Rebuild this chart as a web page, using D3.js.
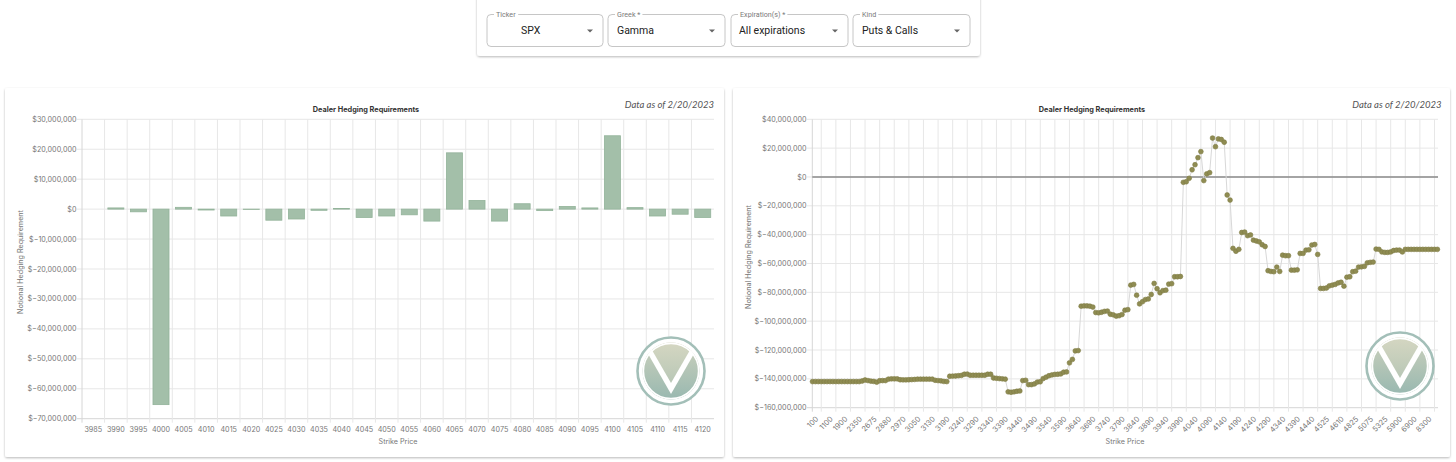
<!DOCTYPE html>
<html><head><meta charset="utf-8">
<script src="https://cdn.jsdelivr.net/npm/d3@7"></script>
<style>
html,body{margin:0;padding:0;background:#fff;}
svg{display:block;font-family:Inter,"Open Sans",sans-serif;}
</style></head><body>
<svg id="c" width="1456" height="462"></svg>
<script>
// ---------- DATA ----------
const controlLabels = ["Ticker", "Greek *", "Expiration(s) *", "Kind"];
const controlValues = ["SPX", "Gamma", "All expirations", "Puts & Calls"];
const chartTitle = "Dealer Hedging Requirements";
const dataAsOf = "Data as of 2/20/2023";
const yTitle = "Notional Hedging Requirement";
const xTitle = "Strike Price";

// left chart: notional per strike, in $ millions
const leftStrikes = [3985,3990,3995,4000,4005,4010,4015,4020,4025,4030,4035,4040,4045,4050,
                     4055,4060,4065,4070,4075,4080,4085,4090,4095,4100,4105,4110,4115,4120];
const leftValues  = [0,0.4,-0.9,-65.3,0.6,-0.3,-2.3,-0.1,-3.7,-3.3,-0.4,0.2,-2.8,-2.3,
                     -1.9,-4.0,18.8,2.9,-4.0,1.8,-0.5,0.9,0.4,24.5,0.5,-2.3,-1.7,-2.8];
const leftYTicks  = [30,20,10,0,-10,-20,-30,-40,-50,-60,-70];

// right chart: cumulative notional by strike, in $ millions
const rightStrikes = [
  25,50,75,100,300,500,700,900,1100,1200,
  1400,1600,1800,1900,2000,2100,2200,2300,2350,2400,
  2500,2550,2600,2675,2700,2750,2800,2850,2880,2900,
  2920,2940,2950,2970,2980,3000,3020,3040,3050,3060,
  3075,3100,3120,3130,3140,3150,3160,3175,3190,3200,
  3210,3220,3230,3240,3250,3260,3270,3280,3290,3300,
  3310,3320,3330,3340,3350,3360,3370,3380,3390,3400,
  3410,3420,3430,3440,3450,3460,3470,3480,3490,3500,
  3510,3520,3530,3540,3550,3560,3570,3580,3590,3600,
  3610,3620,3630,3640,3650,3660,3670,3680,3690,3700,
  3710,3720,3730,3740,3750,3760,3770,3780,3790,3800,
  3810,3820,3830,3840,3850,3860,3870,3880,3890,3900,
  3910,3920,3930,3940,3950,3960,3970,3980,3990,4000,
  4010,4020,4030,4040,4050,4060,4070,4080,4090,4100,
  4110,4120,4130,4140,4150,4160,4170,4180,4190,4200,
  4210,4220,4230,4240,4250,4260,4270,4280,4290,4300,
  4310,4320,4330,4340,4350,4360,4370,4380,4390,4400,
  4410,4420,4430,4440,4450,4475,4490,4500,4525,4550,
  4575,4590,4600,4610,4650,4700,4750,4800,4825,4850,
  4900,4950,5000,5075,5100,5150,5200,5300,5325,5400,
  5500,5600,5800,5900,6000,6200,6400,6600,6900,7000,
  7200,7600,8000,8300,8400];
const rightValues = [
  -141.9,-141.9,-141.9,-141.9,-141.9,-141.9,-141.9,-141.9,-141.9,-141.9,
  -141.9,-141.9,-141.9,-141.9,-141.9,-141.9,-141.9,-141.5,-140.8,-141.2,
  -141.6,-141.8,-142.3,-141.3,-141.2,-141.2,-140.2,-140.0,-140.0,-140.0,
  -140.6,-140.7,-140.7,-140.6,-140.5,-140.4,-140.2,-140.2,-140.2,-140.2,
  -140.2,-140.2,-141.0,-141.2,-141.4,-141.8,-141.9,-138.2,-138.1,-138.0,
  -137.8,-137.6,-136.8,-136.7,-137.5,-137.5,-137.5,-137.5,-137.5,-137.5,
  -136.8,-136.8,-139.4,-139.6,-139.8,-140.0,-140.2,-149.0,-149.3,-149.0,
  -148.6,-148.4,-141.2,-141.0,-144.0,-144.0,-143.5,-142.2,-142.0,-139.8,
  -138.8,-137.8,-137.3,-136.9,-136.8,-136.6,-135.4,-135.2,-128.9,-126.5,
  -120.6,-120.4,-89.6,-89.4,-89.4,-89.6,-90.2,-94.0,-94.2,-93.8,
  -93.2,-93.0,-95.2,-95.6,-96.5,-96.2,-95.4,-92.4,-92.0,-75.0,
  -74.5,-82.0,-88.0,-86.5,-85.0,-84.6,-81.5,-73.8,-77.5,-80.3,
  -78.8,-78.5,-74.3,-74.0,-69.2,-69.2,-69.0,-3.7,-3.3,-0.9,
  5.0,8.5,13.4,17.6,-2.5,2.1,3.0,27.0,21.0,26.4,
  26.0,24.1,-12.5,-16.0,-49.5,-51.5,-50.2,-38.5,-38.2,-40.7,
  -40.2,-43.8,-44.4,-45.0,-47.0,-48.2,-65.0,-65.5,-65.7,-62.5,
  -65.5,-54.2,-54.6,-54.6,-64.6,-64.6,-64.4,-53.0,-53.0,-50.7,
  -50.5,-47.2,-46.8,-53.7,-77.3,-77.3,-77.0,-75.5,-75.0,-74.5,
  -73.5,-73.0,-75.7,-69.5,-69.2,-65.7,-65.3,-62.5,-62.3,-62.0,
  -59.5,-59.2,-59.0,-50.0,-50.2,-52.0,-52.3,-52.3,-52.0,-51.0,
  -50.7,-50.7,-52.0,-50.2,-50.2,-50.2,-50.2,-50.2,-50.2,-50.2,
  -50.2,-50.2,-50.2,-50.2,-50.2];
const rightTickLabels = [100,1100,1900,2350,2675,2880,2970,3050,3130,3190,3240,3290,3340,3390,
  3440,3490,3540,3590,3640,3690,3740,3790,3840,3890,3940,3990,4040,4090,4140,4190,4240,4290,
  4340,4390,4440,4525,4610,4825,5075,5325,5900,6900,8300];
const rightYTicks = [40,20,0,-20,-40,-60,-80,-100,-120,-140,-160];

// ---------- DRAW ----------
const svg = d3.select("#c");
const defs = svg.append("defs");
const sh = defs.append("filter").attr("id","sh").attr("x","-5%").attr("y","-10%").attr("width","110%").attr("height","125%");
sh.append("feDropShadow").attr("dx",0).attr("dy",1).attr("stdDeviation",1.3)
  .attr("flood-color","#000").attr("flood-opacity",0.28);
const lgTop = defs.append("linearGradient").attr("id","lgTop").attr("x1",0).attr("y1",0).attr("x2",0).attr("y2",1);
lgTop.append("stop").attr("offset","0%").attr("stop-color","#dddbc5");
lgTop.append("stop").attr("offset","100%").attr("stop-color","#b8c7b6");
const lgSide = defs.append("linearGradient").attr("id","lgSide").attr("x1",0).attr("y1",0).attr("x2",0).attr("y2",1);
lgSide.append("stop").attr("offset","0%").attr("stop-color","#cdd1bc");
lgSide.append("stop").attr("offset","100%").attr("stop-color","#98b8b0");

const money = v => "$" + d3.format(",")(Math.round(v*1e6));
const GRID = "#e7e7e7", AXIS = "#d6d6d6", TICK = "#777";

// controls panel
svg.append("rect").attr("x",477).attr("y",-6).attr("width",503).attr("height",62)
  .attr("rx",3).attr("fill","#fff").attr("filter","url(#sh)");
const boxes = [{x:487,w:116,vx:521},{x:608,w:117,vx:617},{x:731,w:117,vx:739},{x:853,w:117,vx:862}];
boxes.forEach((b,i)=>{
  const g = svg.append("g");
  g.append("rect").attr("x",b.x).attr("y",14.5).attr("width",b.w).attr("height",32)
    .attr("rx",4).attr("fill","#fff").attr("stroke","#c6c6c6");
  const lab = g.append("text").attr("x",b.x+9).attr("y",17).attr("font-family","Roboto")
    .attr("font-size",7.2).attr("fill","#7a7a7a").text(controlLabels[i]);
  const bb = lab.node().getBBox();
  g.insert("rect","text").attr("x",bb.x-2).attr("y",12).attr("width",bb.width+4).attr("height",5).attr("fill","#fff");
  g.append("text").attr("x",b.vx).attr("y",34).attr("font-family","Roboto")
    .attr("font-size",10.5).attr("fill","#222").text(controlValues[i]);
  const ax = b.x + b.w - 13, ay = 29.5;
  g.append("path").attr("d",`M${ax-3},${ay}L${ax+3},${ay}L${ax},${ay+3}Z`).attr("fill","#666");
});

// cards
svg.append("rect").attr("x",5).attr("y",88).attr("width",719).attr("height",369).attr("rx",2)
  .attr("fill","#fff").attr("filter","url(#sh)");
svg.append("rect").attr("x",733).attr("y",88).attr("width",717).attr("height",369).attr("rx",2)
  .attr("fill","#fff").attr("filter","url(#sh)");

function logo(cx, cy){
  const g = svg.append("g").attr("transform",`translate(${cx},${cy})`);
  g.append("circle").attr("r",33.5).attr("fill","#fff").attr("stroke","#a3bfb8").attr("stroke-width",2.6);
  const cid = "clip"+cx;
  defs.append("clipPath").attr("id",cid).append("circle").attr("r",28.5);
  const gi = g.append("g").attr("clip-path",`url(#${cid})`);
  gi.append("rect").attr("x",-29).attr("y",-29).attr("width",58).attr("height",58).attr("fill","url(#lgSide)");
  gi.append("path").attr("d","M-36,-40L0,23L36,-40Z").attr("fill","#fff");
  gi.append("path").attr("d","M0,12L-30,-40L30,-40Z").attr("fill","url(#lgTop)");
  gi.append("circle").attr("r",28).attr("fill","none").attr("stroke","#fff").attr("stroke-width",2.4);
}

function headers(cx, right){
  svg.append("text").attr("x",cx).attr("y",111.5).attr("text-anchor","middle")
    .attr("font-size",7.3).attr("font-weight",700).attr("fill","#333").text(chartTitle);
  svg.append("text").attr("x",right).attr("y",108).attr("text-anchor","end")
    .attr("font-family","Lato").attr("font-style","italic").attr("font-size",9.5).attr("fill","#555").text(dataAsOf);
}

// ----- LEFT CHART -----
{
  const x = d3.scaleBand().domain(leftStrikes).range([82,714]).paddingInner(0.29).paddingOuter(0.145);
  const y = d3.scaleLinear().domain([-70,30]).range([418.7,119.3]);
  const half = (x.step()-x.bandwidth())/2;
  const g = svg.append("g");
  g.selectAll(".hg").data(leftYTicks).join("line")
    .attr("x1",77).attr("x2",714).attr("y1",d=>y(d)).attr("y2",d=>y(d))
    .attr("stroke",d=>d===-70?AXIS:GRID);
  g.selectAll(".vg").data(leftStrikes).join("line")
    .attr("x1",d=>x(d)-half).attr("x2",d=>x(d)-half).attr("y1",y(30)).attr("y2",y(-70)+4)
    .attr("stroke",(d,i)=>i===0?AXIS:GRID);
  g.selectAll(".bar").data(leftStrikes).join("rect")
    .attr("x",d=>x(d)).attr("width",x.bandwidth())
    .attr("y",(d,i)=>y(Math.max(0,leftValues[i])))
    .attr("height",(d,i)=>Math.abs(y(leftValues[i])-y(0)))
    .attr("fill","#a3bfa9").attr("stroke","#93b39a").attr("stroke-width",0.8);
  g.selectAll(".yl").data(leftYTicks).join("text")
    .attr("x",76.5).attr("y",d=>y(d)).attr("dy","0.35em").attr("text-anchor","end")
    .attr("font-size",7.2).attr("fill",TICK).text(money);
  g.selectAll(".xl").data(leftStrikes).join("text")
    .attr("x",d=>x(d)+x.bandwidth()/2).attr("y",431.5).attr("text-anchor","middle")
    .attr("font-size",7.2).attr("fill",TICK).text(d=>d);
  svg.append("text").attr("transform","translate(23,262) rotate(-90)").attr("text-anchor","middle")
    .attr("font-size",7.2).attr("fill","#777").text(yTitle);
  svg.append("text").attr("x",398).attr("y",444).attr("text-anchor","middle")
    .attr("font-size",7.2).attr("fill","#777").text(xTitle);
  headers(366, 714);
  logo(671, 371);
}

// ----- RIGHT CHART -----
{
  const x = d3.scalePoint().domain(rightStrikes).range([812.5,1437.4]);
  const y = d3.scaleLinear().domain([-160,40]).range([407.7,119.3]);
  const g = svg.append("g");
  g.selectAll(".hg").data(rightYTicks).join("line")
    .attr("x1",807).attr("x2",1438).attr("y1",d=>y(d)).attr("y2",d=>y(d))
    .attr("stroke",d=>d===-160?AXIS:GRID);
  g.append("line").attr("x1",812.3).attr("x2",812.3).attr("y1",y(40)).attr("y2",y(-160)+4).attr("stroke",AXIS);
  g.selectAll(".vg").data(rightTickLabels).join("line")
    .attr("x1",d=>x(d)).attr("x2",d=>x(d)).attr("y1",y(40)).attr("y2",y(-160)+4)
    .attr("stroke",GRID);
  g.append("line").attr("x1",812.3).attr("x2",1438).attr("y1",y(0)).attr("y2",y(0))
    .attr("stroke","#8a8a8a").attr("stroke-width",1.4);
  const pts = rightStrikes.map((s,i)=>[x(s), y(rightValues[i])]);
  g.append("path").attr("d",d3.line()(pts)).attr("fill","none").attr("stroke","#d8d8d8").attr("stroke-width",1);
  g.selectAll(".pt").data(pts).join("circle")
    .attr("cx",d=>d[0]).attr("cy",d=>d[1]).attr("r",2.4)
    .attr("fill","#8f8c52").attr("stroke","#7f7c44").attr("stroke-width",0.6);
  g.selectAll(".yl").data(rightYTicks).join("text")
    .attr("x",806.5).attr("y",d=>y(d)).attr("dy","0.35em").attr("text-anchor","end")
    .attr("font-size",7.2).attr("fill",TICK).text(money);
  g.selectAll(".xl").data(rightTickLabels).join("text")
    .attr("transform",d=>`translate(${x(d)-2.5},${419.5}) rotate(-45)`).attr("text-anchor","end")
    .attr("font-size",7.4).attr("fill",TICK).text(d=>d);
  svg.append("text").attr("transform","translate(751,257) rotate(-90)").attr("text-anchor","middle")
    .attr("font-size",7.2).attr("fill","#777").text(yTitle);
  svg.append("text").attr("x",1125).attr("y",444).attr("text-anchor","middle")
    .attr("font-size",7.2).attr("fill","#777").text(xTitle);
  headers(1092, 1441.5);
  logo(1400, 366);
}
</script>
</body></html>
